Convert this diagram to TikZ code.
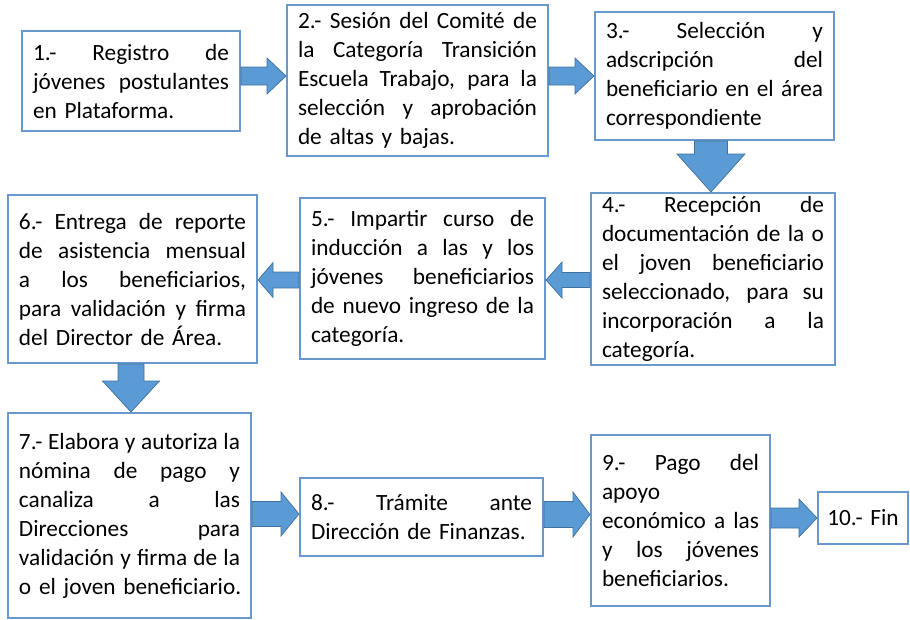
\documentclass[tikz,border=0pt]{standalone}
\usepackage{fontspec}
\setmainfont{Carlito}
\usetikzlibrary{calc}
\definecolor{boxline}{RGB}{104,152,206}
\definecolor{arrfill}{RGB}{91,155,213}
\definecolor{arrline}{RGB}{65,113,156}
\newcommand\J[1]{\noindent\hbox to \hsize{\spaceskip=0.226em plus 1fil\relax #1}\\}
\newcommand\harr[7]{%
  \filldraw[blk] let \p1=(#1), \p2=(#2) in
    (\x1,{-#3pt+#4pt}) -- ({\x2-(#7)*#6pt},{-#3pt+#4pt}) -- ({\x2-(#7)*#6pt},{-#3pt+#5pt})
    -- (\x2,{-#3pt}) -- ({\x2-(#7)*#6pt},{-#3pt-#5pt}) -- ({\x2-(#7)*#6pt},{-#3pt-#4pt})
    -- (\x1,{-#3pt-#4pt}) -- cycle;}
\newcommand\varr[6]{%
  \filldraw[blk] let \p1=(#1), \p2=(#2) in
    ({#3pt-#4pt},\y1) -- ({#3pt-#4pt},{\y2+#6pt}) -- ({#3pt-#5pt},{\y2+#6pt})
    -- (#3pt,\y2) -- ({#3pt+#5pt},{\y2+#6pt}) -- ({#3pt+#4pt},{\y2+#6pt})
    -- ({#3pt+#4pt},\y1) -- cycle;}
\begin{document}
\begin{tikzpicture}[x=1pt,y=-1pt,
  box/.style={draw=boxline,line width=2pt,fill=white,rectangle,inner xsep=11pt,inner ysep=0pt,
    align=left,font=\fontsize{23.3}{29}\selectfont},
  blk/.style={fill=arrfill,draw=arrline,line width=0.7pt}]
\useasboundingbox (0,0) rectangle (910,619);
\node[box,text width=196pt,minimum height=100pt] (b1) at (131,81)
  {\J{1.- Registro de}\J{jóvenes postulantes}\mbox{en Plataforma.}};
\node[box,text width=239pt,minimum height=151pt] (b2) at (417.5,80.5)
  {\J{2.- Sesión del Comité de}\J{la Categoría Transición}\J{Escuela Trabajo, para la}\J{selección y aprobación}\mbox{de altas y bajas.}};
\node[box,text width=217pt,minimum height=128pt] (b3) at (714.5,76)
  {\J{3.- Selección y}\J{adscripción del}\J{beneficiario en el área}\mbox{correspondiente}};
\node[box,text width=222pt,minimum height=172pt] (b4) at (713,279)
  {\J{4.- Recepción de}\J{documentación de la o}\J{el joven beneficiario}\J{seleccionado, para su}\J{incorporación a la}\mbox{categoría.}};
\node[box,text width=223pt,minimum height=161pt] (b5) at (422.5,278.5)
  {\J{5.- Impartir curso de}\J{inducción a las y los}\J{jóvenes beneficiarios}\J{de nuevo ingreso de la}\mbox{categoría.}};
\node[box,text width=227pt,minimum height=168pt] (b6) at (132.5,279)
  {\J{6.- Entrega de reporte}\J{de asistencia mensual}\J{a los beneficiarios,}\J{para validación y firma}\mbox{del Director de Área.}};
\node[box,text width=221pt,minimum height=205pt] (b7) at (129.5,515.5)
  {\J{7.- Elabora y autoriza la}\J{nómina de pago y}\J{canaliza a las}\J{Direcciones para}\J{validación y firma de la}\mbox{o el joven beneficiario.}};
\node[box,text width=221pt,minimum height=78pt] (b8) at (421.5,517)
  {\J{8.- Trámite ante}\mbox{Dirección de Finanzas.}};
\node[box,text width=157pt,minimum height=171pt] (b9) at (680.5,520.5)
  {\J{9.- Pago del}apoyo\\\J{económico a las}\J{y los jóvenes}\mbox{beneficiarios.}};
\node[box,inner xsep=2pt,text width=86pt,align=center,minimum height=52pt] (b10) at (863,518)
  {10.- Fin};
\harr{b1.east}{b2.west}{76}{9}{18}{19}{1}
\harr{b2.east}{b3.west}{76}{9}{18}{19}{1}
\varr{b3.south}{b4.north}{711}{16.5}{34}{38}
\harr{b4.west}{b5.east}{280}{7.5}{18}{16}{-1}
\harr{b5.west}{b6.east}{280}{8}{17.5}{15}{-1}
\varr{b6.south}{b7.north}{131}{13}{28.5}{31}
\harr{b7.east}{b8.west}{514}{12.5}{22}{18}{1}
\harr{b8.east}{b9.west}{514.5}{13}{22.5}{17}{1}
\harr{b9.east}{b10.west}{518}{10}{19}{18}{1}
\end{tikzpicture}
\end{document}
